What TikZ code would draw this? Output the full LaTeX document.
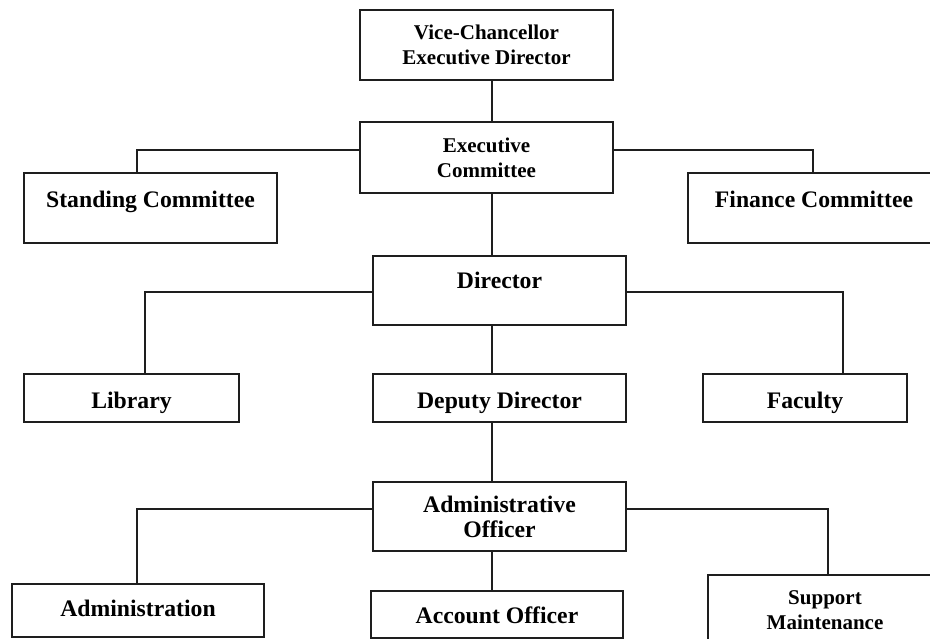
\documentclass[tikz,border=0pt]{standalone}
\usepackage{fontspec}
\setmainfont{Liberation Serif}
\definecolor{linegray}{HTML}{1E1E1E}
\begin{document}
\begin{tikzpicture}[x=1pt, y=-1pt,
  box/.style={draw=linegray, line width=1.5pt, rectangle, inner sep=0pt,
    align=center, text=black, font=\bfseries\fontsize{21}{25}\selectfont},
  bigtext/.style={font=\bfseries\fontsize{23.7}{25}\selectfont},
  oneline/.style={bigtext, text height=20pt, text depth=0pt},
  upperline/.style={bigtext, text height=16pt, text depth=16pt},
  link/.style={draw=linegray, line width=1.5pt}]
\useasboundingbox (0,0) rectangle (930,639);
\clip (0,0) rectangle (930,639);

% boxes
\node[box, minimum width=253pt, minimum height=70pt] (vc) at (486.5,45)
  {Vice-Chancellor\\Executive Director};
\node[box, minimum width=253pt, minimum height=71pt] (exec) at (486.5,157.5)
  {Executive\\Committee};
\node[box, upperline, minimum width=253pt, minimum height=70pt] (stand) at (150.5,208)
  {Standing Committee};
\node[box, upperline, minimum width=252pt, minimum height=70pt] (fin) at (814,208)
  {Finance Committee};
\node[box, bigtext, text height=16pt, text depth=19pt, minimum width=253pt, minimum height=69pt] (dir) at (499.5,290.5)
  {Director};
\node[box, oneline, minimum width=215pt, minimum height=48pt] (lib) at (131.5,398) {Library};
\node[box, oneline, minimum width=253pt, minimum height=48pt] (dep) at (499.5,398) {Deputy Director};
\node[box, oneline, minimum width=204pt, minimum height=48pt] (fac) at (805,398) {Faculty};
\node[box, bigtext, minimum width=253pt, minimum height=69pt] (ao) at (499.5,516.5)
  {Administrative\\Officer};
\node[box, bigtext, text height=17pt, text depth=6pt, minimum width=252pt, minimum height=53pt] (adm) at (138,610.5) {Administration};
\node[box, bigtext, text height=17pt, text depth=0pt, minimum width=252pt, minimum height=47pt] (acc) at (497,614.5) {Account Officer};
\node[box, minimum width=234pt, minimum height=71pt] (sup) at (825,610.5)
  {Support\\Maintenance};

% trunk and elbow points
\coordinate (trunk) at (492,0);
\coordinate (e1) at (137,150);
\coordinate (e2) at (813,150);
\coordinate (d1) at (145,292);
\coordinate (d2) at (843,292);
\coordinate (a1) at (137,509);
\coordinate (a2) at (828,509);

% vertical trunk links
\draw[link] (vc.south -| trunk) -- (exec.north -| trunk);
\draw[link] (exec.south -| trunk) -- (dir.north -| trunk);
\draw[link] (dir.south -| trunk) -- (dep.north -| trunk);
\draw[link] (dep.south -| trunk) -- (ao.north -| trunk);
\draw[link] (ao.south -| trunk) -- (acc.north -| trunk);

% side branches
\draw[link] (exec.west |- e1) -- (e1) -- (e1 |- stand.north);
\draw[link] (exec.east |- e2) -- (e2) -- (e2 |- fin.north);
\draw[link] (dir.west |- d1) -- (d1) -- (d1 |- lib.north);
\draw[link] (dir.east |- d2) -- (d2) -- (d2 |- fac.north);
\draw[link] (ao.west |- a1) -- (a1) -- (a1 |- adm.north);
\draw[link] (ao.east |- a2) -- (a2) -- (a2 |- sup.north);
\end{tikzpicture}
\end{document}
